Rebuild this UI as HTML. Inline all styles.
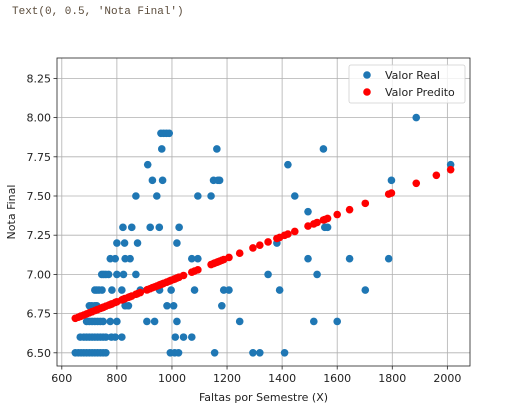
<!DOCTYPE html>
<html><head><meta charset="utf-8"><style>
body{margin:0;background:#fff;width:506px;height:412px;overflow:hidden}
.out{position:absolute;left:12px;top:6px;font:11px "Liberation Mono",monospace;color:#5b4c3c;white-space:pre}
svg{position:absolute;left:0;top:0}
text{font-family:"DejaVu Sans","Liberation Sans",sans-serif;font-size:11px;fill:#222}
</style></head><body>
<div class="out">Text(0, 0.5, 'Nota Final')</div>
<svg width="506" height="412" id="chart"></svg>
<script>
const xTicks=[600,800,1000,1200,1400,1600,1800,2000];
const yTicks=[6.50,6.75,7.00,7.25,7.50,7.75,8.00,8.25];
const realX=[960,970,980,990, 963,1163,1550, 1887, 912,1421,2012,
929,966,1151,1167,1173,1797, 869,945,1094,1142,1446, 1494,
822,854,921,954,1026,1555,1565, 800,828,875,1018,1381,
776,794,830,848,1072,1094,1494,1645,1787,
745,752,760,770,800,824,869,1349,1527,
720,727,735,746,782,818,885,955,997,1082,1188,1207,1391,1702,
700,709,720,727,830,842,982,1006,1181,
690,700,710,720,730,740,750,776,800,909,937,1018,1246,1515,1600,
667,680,690,700,710,720,730,740,750,760,780,794,818,1012,1042,1072,
649,660,670,680,690,700,710,720,730,740,750,760,994,1010,1024,1155,1294,1319,1409];
const realY=[7.9,7.9,7.9,7.9, 7.8,7.8,7.8, 8.0, 7.7,7.7,7.7,
7.6,7.6,7.6,7.6,7.6,7.6, 7.5,7.5,7.5,7.5,7.5, 7.4,
7.3,7.3,7.3,7.3,7.3,7.3,7.3, 7.2,7.2,7.2,7.2,7.2,
7.1,7.1,7.1,7.1,7.1,7.1,7.1,7.1,7.1,
7.0,7.0,7.0,7.0,7.0,7.0,7.0,7.0,7.0,
6.9,6.9,6.9,6.9,6.9,6.9,6.9,6.9,6.9,6.9,6.9,6.9,6.9,6.9,
6.8,6.8,6.8,6.8,6.8,6.8,6.8,6.8,6.8,
6.7,6.7,6.7,6.7,6.7,6.7,6.7,6.7,6.7,6.7,6.7,6.7,6.7,6.7,6.7,
6.6,6.6,6.6,6.6,6.6,6.6,6.6,6.6,6.6,6.6,6.6,6.6,6.6,6.6,6.6,6.6,
6.5,6.5,6.5,6.5,6.5,6.5,6.5,6.5,6.5,6.5,6.5,6.5,6.5,6.5,6.5,6.5,6.5,6.5,6.5];
const predX=[649,660,667,670,680,690,700,709,710,720,727,730,740,746,750,752,760,770,776,780,782,794,800,818,822,824,828,830,842,848,854,869,875,885,909,912,921,929,937,945,954,955,960,963,966,970,980,982,990,994,997,1006,1010,1012,1018,1024,1026,1042,1072,1082,1094,1142,1151,1155,1163,1167,1173,1181,1188,1207,1246,1294,1319,1349,1381,1391,1409,1421,1446,1494,1515,1527,1550,1555,1565,1600,1645,1702,1787,1797,1887,1960,2012];
const predY=[6.720,6.727,6.732,6.734,6.741,6.748,6.755,6.761,6.762,6.769,6.774,6.776,6.783,6.787,6.790,6.791,6.797,6.804,6.808,6.811,6.812,6.821,6.825,6.837,6.840,6.842,6.844,6.846,6.854,6.858,6.862,6.873,6.877,6.884,6.901,6.903,6.909,6.915,6.920,6.926,6.932,6.933,6.936,6.938,6.940,6.943,6.950,6.951,6.957,6.960,6.962,6.968,6.971,6.972,6.977,6.981,6.982,6.993,7.014,7.021,7.029,7.063,7.069,7.072,7.077,7.080,7.084,7.090,7.095,7.108,7.135,7.169,7.186,7.207,7.229,7.236,7.249,7.257,7.274,7.308,7.322,7.331,7.347,7.350,7.357,7.382,7.413,7.453,7.512,7.519,7.581,7.632,7.668];

const L=57,R=470,T=58,B=366;
const sx=v=>61.8+(v-600)*0.2754;
const sy=v=>352.8-(v-6.5)*156.8;
const svg=document.getElementById('chart');
const NS='http://www.w3.org/2000/svg';
function mk(tag,attrs,parent){const e=document.createElementNS(NS,tag);for(const k in attrs)e.setAttribute(k,attrs[k]);(parent||svg).appendChild(e);return e;}

const grid=mk('g',{});


xTicks.forEach(t=>{
  const x=sx(t);
  const l=mk('line',{x1:x,x2:x,y1:T,y2:B,stroke:'#b0b0b0','stroke-width':0.8},grid);
  
  
  const tk=mk('line',{x1:x,x2:x,y1:B,y2:B+3.5,stroke:'#222','stroke-width':0.8});
  
  
  const tx=mk('text',{x:x,y:B+16,'text-anchor':'middle'});
  tx.textContent=t;
  
  
});
yTicks.forEach(t=>{
  const y=sy(t);
  const l=mk('line',{x1:L,x2:R,y1:y,y2:y,stroke:'#b0b0b0','stroke-width':0.8},grid);
  
  
  const tk=mk('line',{x1:L-3.5,x2:L,y1:y,y2:y,stroke:'#222','stroke-width':0.8});
  
  
  const tx=mk('text',{x:L-6,y:y+4,'text-anchor':'end'});
  tx.textContent=t.toFixed(2);
  
  
});

const real=mk('g',{fill:'#1f77b4'});


realX.forEach((v,i)=>{
  const c=mk('circle',{cx:sx(v),cy:sy(realY[i]),r:3.8},real);
  
  
});
const pred=mk('g',{fill:'#ff0000'});


predX.forEach((v,i)=>{
  const c=mk('circle',{cx:sx(v),cy:sy(predY[i]),r:3.8},pred);
  
  
});

const fr=mk('rect',{x:L,y:T,width:R-L,height:B-T,fill:'none',stroke:'#222','stroke-width':0.8});



const xl=mk('text',{x:(L+R)/2,y:401,'text-anchor':'middle'});
xl.textContent='Faltas por Semestre (X)';


const yl=mk('text',{x:0,y:0,'text-anchor':'middle',transform:'translate(15,'+((T+B)/2)+') rotate(-90)'});
yl.textContent='Nota Final';



const lg=mk('g',{});


mk('rect',{x:349,y:65,width:116,height:38,rx:2,fill:'#fff','fill-opacity':0.8,stroke:'#d0d0d0','stroke-width':0.8},lg);
const m1=mk('circle',{cx:367,cy:75,r:3.8,fill:'#1f77b4'},lg);


const t1=mk('text',{x:385,y:79},lg);t1.textContent='Valor Real';


const m2=mk('circle',{cx:367,cy:92,r:3.8,fill:'#ff0000'},lg);


const t2=mk('text',{x:385,y:96},lg);t2.textContent='Valor Predito';


</script>
</body></html>
